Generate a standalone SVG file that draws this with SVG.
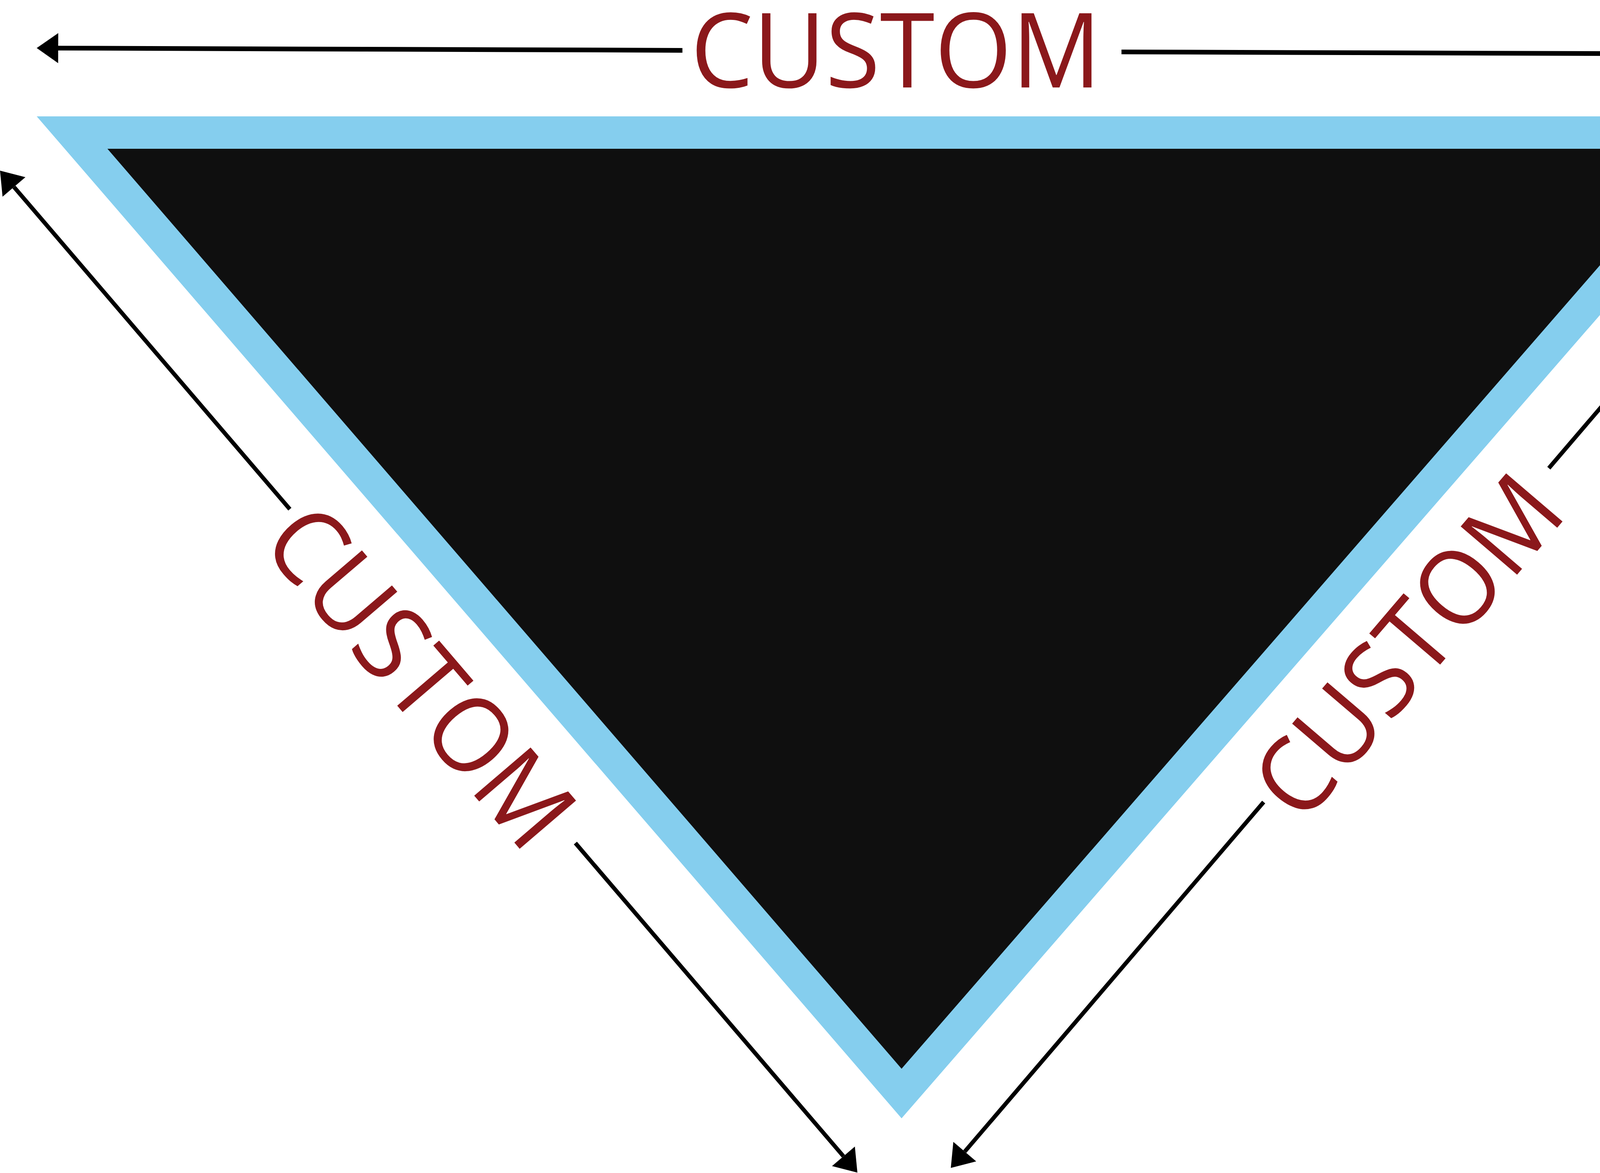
<svg xmlns="http://www.w3.org/2000/svg" width="4629" height="3004" viewBox="0 0 4629 3004">
<style>
.lbl{font-family:"Open Sans","Noto Sans","Liberation Sans",sans-serif;font-size:266px;fill:#8B181B;}
.ln{stroke:#000;fill:none;stroke-linecap:butt;}
.h{stroke-width:12;}
.d{stroke-width:10.5;}
</style>
<defs>
<marker id="ah" markerUnits="userSpaceOnUse" markerWidth="120" markerHeight="120" refX="0" refY="0" viewBox="-5 -60 120 120" orient="auto-start-reverse" overflow="visible">
<path d="M0,-38.5 L55,0 L0,38.5 Z" fill="#000"/>
</marker>
</defs>
<rect width="4629" height="3004" fill="#fff"/>
<g id="triangle">
<polygon points="94,298 4538,298 2308,2864" fill="#85CEEE"/>
<polygon points="275,381 4355,381 2308,2737" fill="#0F0F0F"/>
</g>
<g id="connectors">
<line class="ln h" x1="149" y1="123.2" x2="1747" y2="128.9" marker-start="url(#ah)"/>
<line class="ln h" x1="2871" y1="132.9" x2="4541" y2="138.8" marker-end="url(#ah)"/>
<line class="ln d" x1="35.8" y1="478.8" x2="742" y2="1304" marker-start="url(#ah)"/>
<line class="ln d" x1="1473" y1="2159" x2="2159.2" y2="2961.2" marker-end="url(#ah)"/>
<line class="ln d" x1="4592.2" y1="465.8" x2="3965" y2="1199" marker-start="url(#ah)"/>
<line class="ln d" x1="3235" y1="2054" x2="2469.8" y2="2949.2" marker-end="url(#ah)"/>
</g>
<g id="label-top">
<text class="lbl" x="1768" y="224" textLength="1051" lengthAdjust="spacingAndGlyphs">CUSTOM</text>
</g>
<g id="label-left">
<text class="lbl" transform="translate(675,1407.5) rotate(49.46)" x="-18" y="0" textLength="1051" lengthAdjust="spacingAndGlyphs">CUSTOM</text>
</g>
<g id="label-right">
<text class="lbl" transform="translate(3345,2102) rotate(-49.48)" x="-18" y="0" textLength="1051" lengthAdjust="spacingAndGlyphs">CUSTOM</text>
</g>
</svg>
